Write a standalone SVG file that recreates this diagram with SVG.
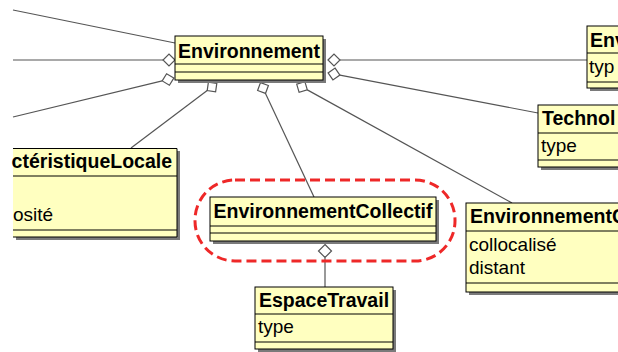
<svg xmlns="http://www.w3.org/2000/svg" width="618" height="352" viewBox="0 0 618 352">
<style>
.sh{fill:#7a7a7a}
.bx{fill:#ffffc0;stroke:#000;stroke-width:1}
.sep{stroke:#000;stroke-width:1}
.t{font-family:"Liberation Sans",Arial,sans-serif;font-size:19.5px;font-weight:bold;fill:#000}
.a{font-family:"Liberation Sans",Arial,sans-serif;font-size:19px;fill:#000}
.ln{stroke:#555;stroke-width:1.2;fill:none}
.dm{fill:#fff;stroke:#555;stroke-width:1.2}
.hl{fill:none;stroke:#ee2828;stroke-width:3;stroke-dasharray:10 5}
</style>
<rect width="618" height="352" fill="#fff"/>
<g id="connectors">
<line class="ln" x1="13" y1="10" x2="175" y2="43"/>
<line class="ln" x1="163" y1="60" x2="13" y2="60"/>
<polygon class="dm" points="175,60 169,54 163,60 169,66"/>
<line class="ln" x1="162.2" y1="80.9" x2="13" y2="117"/>
<polygon class="dm" points="173.8,78.1 166.6,73.7 162.2,80.9 169.4,85.3"/>
<line class="ln" x1="207.2" y1="90.6" x2="131" y2="148"/>
<polygon class="dm" points="216.8,83.4 208.4,82.2 207.2,90.6 215.6,91.8"/>
<line class="ln" x1="265.5" y1="93.4" x2="314" y2="197"/>
<polygon class="dm" points="260.5,82.6 257.6,90.5 265.5,93.4 268.4,85.5"/>
<line class="ln" x1="307.3" y1="89.9" x2="512" y2="203"/>
<polygon class="dm" points="296.7,84.1 299.1,92.3 307.3,89.9 304.9,81.7"/>
<line class="ln" x1="340" y1="60" x2="587" y2="60"/>
<polygon class="dm" points="328,60 334,54 340,60 334,66"/>
<line class="ln" x1="339.9" y1="75.1" x2="538" y2="113"/>
<polygon class="dm" points="328.1,72.9 332.9,79.9 339.9,75.1 335.1,68.1"/>
<line class="ln" x1="325" y1="257.5" x2="325" y2="287"/>
<polygon class="dm" points="325,244.5 331.5,251 325,257.5 318.5,251"/>
</g>
<g id="Environnement">
<rect class="sh" x="178" y="39" width="148" height="44"/>
<rect class="bx" x="175" y="36" width="148" height="44"/>
<line class="sep" x1="175" y1="64" x2="323" y2="64"/>
<line class="sep" x1="175" y1="72" x2="323" y2="72"/>
<text class="t" x="249" y="58" text-anchor="middle">Environnement</text>
</g>
<g id="Env">
<rect class="sh" x="590" y="29" width="40" height="62"/>
<rect class="bx" x="587" y="26" width="40" height="62"/>
<line class="sep" x1="587" y1="53" x2="627" y2="53"/>
<line class="sep" x1="587" y1="82" x2="627" y2="82"/>
<text class="t" x="590" y="47">Env</text>
<text class="a" x="589" y="73">typ</text>
</g>
<g id="Technol">
<rect class="sh" x="541" y="108" width="90" height="62"/>
<rect class="bx" x="538" y="105" width="90" height="62"/>
<line class="sep" x1="538" y1="133" x2="628" y2="133"/>
<line class="sep" x1="538" y1="160" x2="628" y2="160"/>
<text class="t" x="542" y="125">Technol</text>
<text class="a" x="541" y="152">type</text>
</g>
<g id="CaracteristiqueLocale">
<rect class="sh" x="16" y="151" width="164" height="89"/>
<rect x="13" y="148" width="164" height="89" fill="#ffffc0"/>
<path class="sep" fill="none" d="M13,148.5 H177 V237 H13"/>
<line class="sep" x1="13" y1="176" x2="177" y2="176"/>
<line class="sep" x1="13" y1="230" x2="177" y2="230"/>
<text class="t" x="172" y="168" text-anchor="end">ctéristiqueLocale</text>
<text class="a" x="13" y="221">osité</text>
</g>
<g id="EnvironnementCollectif">
<rect class="sh" x="213" y="200" width="226" height="44"/>
<rect class="bx" x="210" y="197" width="226" height="44"/>
<line class="sep" x1="210" y1="226" x2="436" y2="226"/>
<line class="sep" x1="210" y1="233" x2="436" y2="233"/>
<text class="t" x="323" y="218" text-anchor="middle">EnvironnementCollectif</text>
</g>
<g id="EnvironnementC">
<rect class="sh" x="469" y="206" width="160" height="89"/>
<rect class="bx" x="466" y="203" width="160" height="89"/>
<line class="sep" x1="466" y1="231" x2="626" y2="231"/>
<line class="sep" x1="466" y1="283" x2="626" y2="283"/>
<text class="t" x="470" y="223">EnvironnementC</text>
<text class="a" x="469" y="251">collocalisé</text>
<text class="a" x="469" y="274">distant</text>
</g>
<g id="EspaceTravail">
<rect class="sh" x="258" y="290" width="138" height="62"/>
<rect class="bx" x="255" y="287" width="138" height="62"/>
<line class="sep" x1="255" y1="314" x2="393" y2="314"/>
<line class="sep" x1="255" y1="342" x2="393" y2="342"/>
<text class="t" x="324" y="307" text-anchor="middle">EspaceTravail</text>
<text class="a" x="258" y="333">type</text>
</g>
<g id="highlight">
<rect class="hl" x="195" y="180" width="260" height="81" rx="40" ry="40"/>
</g>
</svg>
